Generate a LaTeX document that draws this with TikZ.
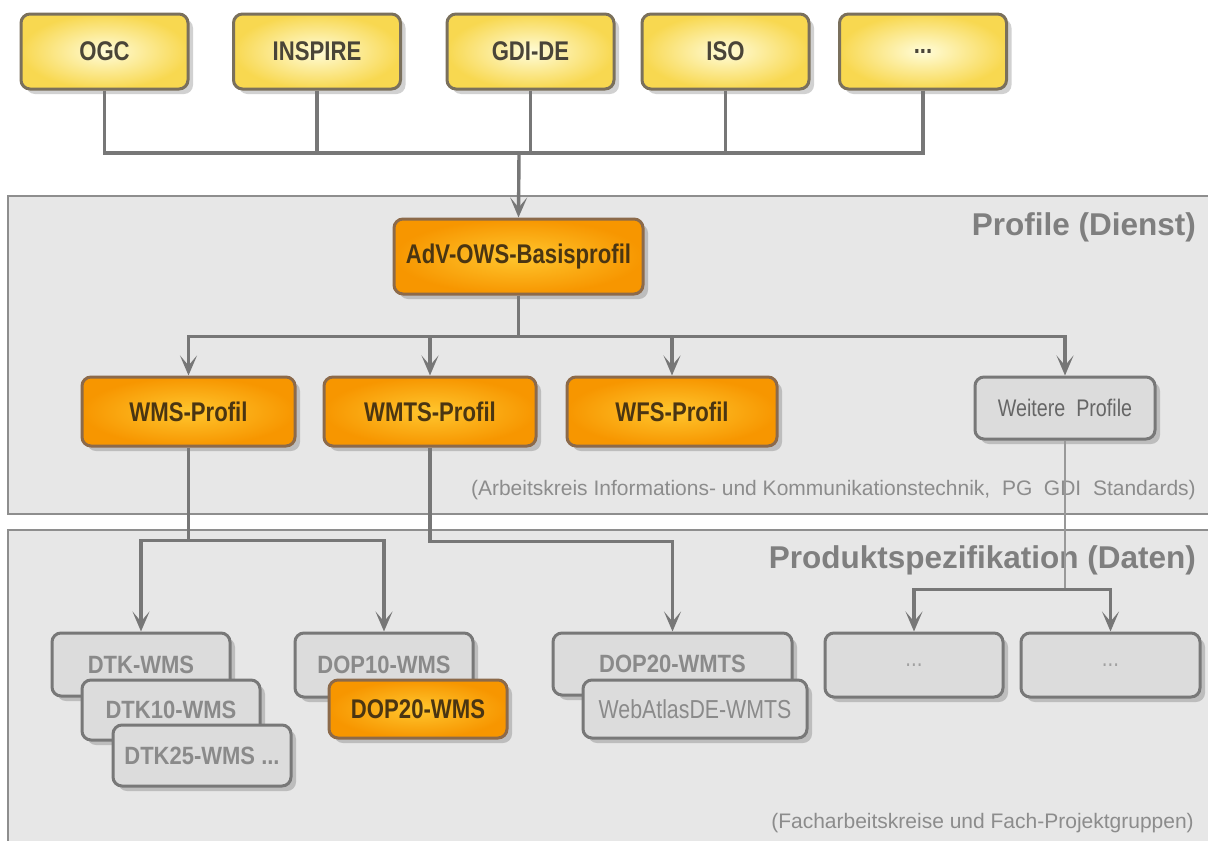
\documentclass[tikz,border=0pt]{standalone}
\usepackage{fontspec}
\setmainfont{Liberation Sans}
\newfontfamily\narrow{Liberation Sans}[FakeStretch=0.82]
\newfontfamily\slim{Liberation Sans}[FakeStretch=0.88]
\usetikzlibrary{shadows,arrows.meta}

\definecolor{boxedge}{HTML}{7A705C}
\definecolor{yellowin}{HTML}{FFFCD8}
\definecolor{yellowout}{HTML}{F8D850}
\definecolor{toptext}{HTML}{4A4538}
\definecolor{orangeedge}{HTML}{8C6A4A}
\definecolor{orangein}{HTML}{FFC62E}
\definecolor{orangeout}{HTML}{F79600}
\definecolor{orangetext}{HTML}{4A3512}
\definecolor{grayedge}{HTML}{787878}
\definecolor{grayfill}{HTML}{DCDCDC}
\definecolor{graytext}{HTML}{8A8A8A}
\definecolor{paneledge}{HTML}{8E8E8E}
\definecolor{panelfill}{HTML}{E7E7E7}
\definecolor{titlegray}{HTML}{7F7F7F}
\definecolor{notegray}{HTML}{8C8C8C}
\definecolor{linegray}{HTML}{777777}

\begin{document}
\begin{tikzpicture}[
    x=1pt, y=-1pt,
    box/.style={draw, line width=3pt, rounded corners=9pt, inner sep=0pt,
      drop shadow={shadow xshift=5pt, shadow yshift=-5pt, fill=black, opacity=.18}},
    topbox/.style={box, draw=boxedge, inner color=yellowin, outer color=yellowout,
      minimum width=167pt, minimum height=75pt, text=toptext,
      font=\fontsize{27}{30}\narrow\bfseries},
    profilebox/.style={box, draw=orangeedge, inner color=orangein, outer color=orangeout,
      text=orangetext, font=\fontsize{27}{30}\narrow\bfseries},
    specbox/.style={box, draw=grayedge, fill=grayfill, text=graytext,
      font=\fontsize{25}{28}\slim\bfseries},
    plainspec/.style={specbox, font=\fontsize{25}{28}\narrow},
    panel/.style={draw=paneledge, fill=panelfill, line width=1.5pt},
    paneltitle/.style={anchor=east, inner sep=0pt, text=titlegray,
      font=\fontsize{31.5}{34}\selectfont\bfseries},
    panelnote/.style={anchor=east, inner sep=0pt, text=notegray,
      font=\fontsize{21}{24}\selectfont},
    conn/.style={draw=linegray, line width=3.4pt},
    arr/.style={conn, -{Stealth[length=20pt, width=17pt, inset=10pt]}},
    faintconn/.style={draw=linegray!75, line width=2.6pt},
  ]
  \useasboundingbox[fill=white] (0,0) rectangle (1208,841);

  \path[panel] (8,196) rectangle (1214,514);
  \path[panel] (8,530) rectangle (1214,848);
  \node[paneltitle] (dienst) at (1196,227) {Profile (Dienst)};
  \node[panelnote] (aknote) at (1196,490) {(Arbeitskreis Informations- und Kommunikationstechnik,~ PG~ GDI~ Standards)};
  \node[paneltitle] (daten) at (1196,560) {Produktspezifikation (Daten)};
  \node[panelnote] (faknote) at (1194,823) {(Facharbeitskreise und Fach-Projektgruppen)};

  \node[topbox] (ogc) at (104.5,51.5) {OGC};
  \node[topbox] (inspire) at (317,51.5) {INSPIRE};
  \node[topbox] (gdide) at (530.5,51.5) {GDI-DE};
  \node[topbox] (iso) at (725.5,51.5) {ISO};
  \node[topbox] (moreorg) at (923,51.5) {...};

  \node[profilebox, minimum width=249pt, minimum height=75pt] (adv) at (518.5,256.5) {AdV-OWS-Basisprofil};
  \node[profilebox, minimum width=213pt, minimum height=69pt] (wms) at (188.5,411.5) {WMS-Profil};
  \node[profilebox, minimum width=212pt, minimum height=69pt] (wmts) at (430,411.5) {WMTS-Profil};
  \node[profilebox, minimum width=210pt, minimum height=69pt] (wfs) at (672,411.5) {WFS-Profil};
  \node[plainspec, minimum width=180pt, minimum height=62pt, text=black!60,
    font=\fontsize{24}{28}\narrow] (weitere) at (1065,408) {Weitere~~Profile};

  \node[specbox, minimum width=178pt, minimum height=63pt] (dtk) at (141,664.5) {DTK-WMS};
  \node[specbox, minimum width=178pt, minimum height=60pt] (dtkten) at (171,710) {DTK10-WMS};
  \node[specbox, minimum width=178pt, minimum height=61pt] (dtkfive) at (202,755.5) {DTK25-WMS ...};
  \node[specbox, minimum width=178pt, minimum height=64pt] (dopten) at (384,665) {DOP10-WMS};
  \node[profilebox, minimum width=178pt, minimum height=58pt] (dopwms) at (418,709) {DOP20-WMS};
  \node[specbox, minimum width=239pt, minimum height=62pt] (dopwmts) at (672.5,664) {DOP20-WMTS};
  \node[plainspec, minimum width=224pt, minimum height=58pt,
    font=\fontsize{26}{28}\narrow] (webatlas) at (695,709) {WebAtlasDE-WMTS};
  \node[plainspec, minimum width=178pt, minimum height=64pt, text=graytext!80] (dotsa) at (914,665) {...};
  \node[plainspec, minimum width=179pt, minimum height=64pt, text=graytext!80] (dotsb) at (1110.5,665) {...};

  \coordinate (bus) at (519,153);
  \foreach \n in {ogc,inspire,gdide,iso,moreorg}
    \draw[conn] (\n.south) |- (bus);
  \draw[arr] (bus) -- (adv.north);

  \path (adv.south) ++(0,41) coordinate (split);
  \draw[conn] (adv.south) -- (split);
  \foreach \n in {wms,wmts,wfs,weitere}
    \draw[arr] (split) -| (\n.north);

  \path (wms.south) ++(0,93) coordinate (wmsbus);
  \draw[conn] (wms.south) -- (wmsbus);
  \draw[arr] (wmsbus) -| (dtk.north);
  \draw[arr] (wmsbus) -| (dopten.north);

  \path (wmts.south) ++(0,94) coordinate (wmtsbus);
  \draw[arr] (wmts.south) -- (wmtsbus) -| (dopwmts.north);

  \path (weitere.south) ++(0,149) coordinate (weiterebus);
  \draw[faintconn] (weitere.south) -- (weiterebus);
  \draw[arr] (weiterebus) -| (dotsa.north);
  \draw[arr] (weiterebus) -| (dotsb.north);
\end{tikzpicture}
\end{document}
